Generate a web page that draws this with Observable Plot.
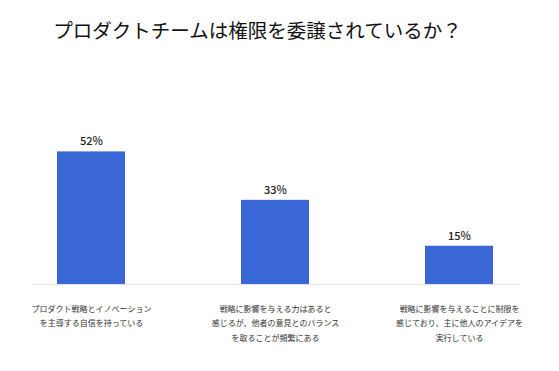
<!DOCTYPE html>
<html>
<head>
<meta charset="utf-8">
<script src="https://cdn.jsdelivr.net/npm/d3@7"></script>
<script src="https://cdn.jsdelivr.net/npm/@observablehq/plot@0.6"></script>
<style>
  html, body { margin: 0; padding: 0; background: #fff; }
  body { width: 559px; height: 371px; overflow: hidden; font-family: "Noto Sans CJK JP", "Noto Sans", sans-serif; }
  #title { height: 60px; line-height: 60px; text-align: center; font-size: 19.5px; color: #111; padding-right: 44px; }
</style>
</head>
<body>
<div id="title">プロダクトチームは権限を委譲されているか？</div>
<div id="chart"></div>
<script>
const categories = [
  "プロダクト戦略とイノベーション\nを主導する自信を持っている",
  "戦略に影響を与える力はあると\n感じるが、他者の意見とのバランス\nを取ることが頻繁にある",
  "戦略に影響を与えることに制限を\n感じており、主に他人のアイデアを\n実行している"
];
const values = [52, 33, 15];
const valueLabels = ["52%", "33%", "15%"];

const data = categories.map((c, i) => ({category: c, value: values[i], label: valueLabels[i]}));

const chart = Plot.plot({
  width: 559,
  height: 311,
  marginTop: 71,
  marginBottom: 87,
  marginLeft: 0,
  marginRight: 10,
  style: {fontFamily: "'Noto Sans CJK JP', 'Noto Sans', sans-serif", background: "#fff"},
  x: {domain: categories, padding: 0.632, paddingOuter: 0.3, label: null},
  y: {domain: [0, 60], axis: null},
  marks: [
    Plot.barY(data, {x: "category", y: "value", fill: "#3a67d6"}),
    Plot.ruleY([0], {stroke: "#e2e2e2", strokeWidth: 1, insetLeft: 32, insetRight: 29}),
    Plot.text(data, {x: "category", y: "value", text: "label", dy: -10, fontSize: 11, fontWeight: 500, fill: "#222"}),
    Plot.axisX({tickSize: 0, tickPadding: 17, fontSize: 8, lineHeight: 1.8, fill: "#333", label: null})
  ]
});
document.getElementById("chart").appendChild(chart);
</script>
</body>
</html>
